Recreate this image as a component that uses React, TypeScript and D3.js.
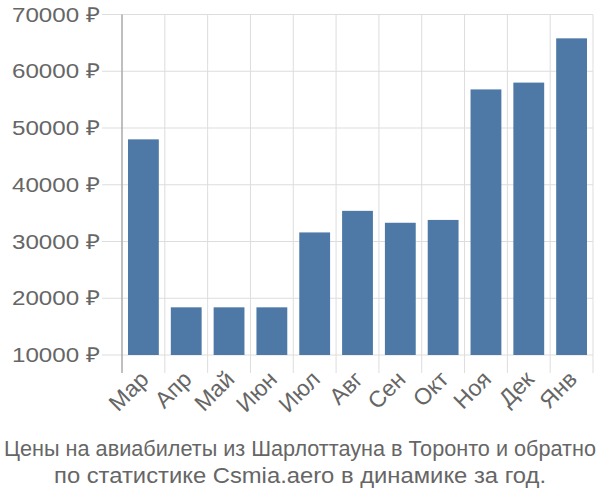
import React from "react";
import * as d3 from "d3";

const months = ["Мар", "Апр", "Май", "Июн", "Июл", "Авг", "Сен", "Окт", "Ноя", "Дек", "Янв"];
const prices = [48000, 18400, 18400, 18400, 31600, 35400, 33300, 33800, 56800, 58000, 65800];
const yTicks = [10000, 20000, 30000, 40000, 50000, 60000, 70000];
const titleLines = [
  "Цены на авиабилеты из Шарлоттауна в Торонто и обратно",
  "по статистике Csmia.aero в динамике за год.",
];
const titleWidths = [592, 492];

export default function App() {
  const W = 600, H = 500;
  const left = 122, right = 593, top = 14.5, bottom = 355;
  const x = d3.scaleBand<string>().domain(months).range([left, right]).paddingInner(0.28).paddingOuter(0.14);
  const step = (right - left) / months.length;
  const y = d3.scaleLinear().domain([10000, 70000]).range([bottom, top]);
  const font = "'Liberation Sans', Arial, sans-serif";
  const textColor = "#666";
  return (
    <svg width={W} height={H} style={{ position: "absolute", left: 0, top: 0 }}>
      <rect width={W} height={H} fill="#fff" />
      {yTicks.map((t) => (
        <g key={t}>
          <line x1={102} x2={right} y1={y(t)} y2={y(t)} stroke="#ddd" strokeWidth={1} />
          <text x={100} y={y(t)} dy="0.35em" textAnchor="end" fontFamily={font} fontSize={20.5} fill={textColor}
            textLength={88} lengthAdjust="spacingAndGlyphs">
            {t} ₽
          </text>
        </g>
      ))}
      {d3.range(months.length + 1).map((i) => (
        <line key={i} x1={left + i * step} x2={left + i * step} y1={top} y2={373}
          stroke={i === 0 ? "#aaa" : "#ddd"} strokeWidth={i === 0 ? 1.5 : 1} />
      ))}
      {months.map((m, i) => (
        <rect key={m} x={x(m)} width={x.bandwidth()} y={y(prices[i])} height={bottom - y(prices[i])} fill="#4e79a7" />
      ))}
      {months.map((m) => {
        const cx = (x(m) as number) + x.bandwidth() / 2 + 1;
        const cy = 375;
        return (
          <text key={m} transform={`translate(${cx},${cy}) rotate(-45)`} textAnchor="end" dy="0.35em"
            fontFamily={font} fontSize={23} fill={textColor}>
            {m}
          </text>
        );
      })}
      {titleLines.map((l, i) => (
        <text key={i} x={300} y={456 + i * 27} textAnchor="middle" fontFamily={font} fontSize={21.5} fill={textColor}
          textLength={titleWidths[i]} lengthAdjust="spacingAndGlyphs">
          {l}
        </text>
      ))}
    </svg>
  );
}
